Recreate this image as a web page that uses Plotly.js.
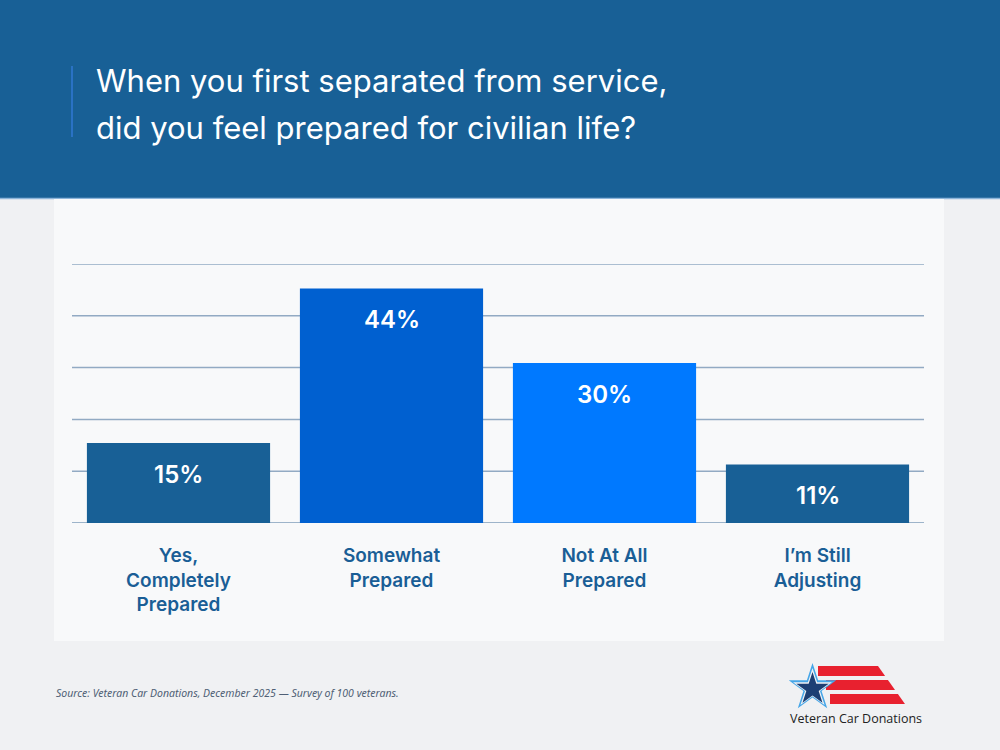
<!DOCTYPE html>
<html>
<head>
<meta charset="utf-8">
<script src="https://cdn.plot.ly/plotly-3.0.1.min.js"></script>
<style>
  html, body { margin: 0; padding: 0; background: #f0f1f3; }
  #chart { width: 1000px; height: 750px; }
</style>
</head>
<body>
<div id="chart"></div>
<script>
// chart data
const categories = [
  "Yes,<br>Completely<br>Prepared",
  "Somewhat<br>Prepared",
  "Not At All<br>Prepared",
  "I’m Still<br>Adjusting"
];
const shares = [15, 44, 30, 11];
const barColors = ["#186096", "#0060d0", "#0079ff", "#186096"];

const titleLines = [
  "When you first separated from service,",
  "did you feel prepared for civilian life?"
];
const sourceNote = "Source: Veteran Car Donations, December 2025 — Survey of 100 veterans.";
const brandName = "Veteran Car Donations";

// page pixels -> paper coords (margins are 0 so paper == page)
const px = x => x / 1000;
const py = y => 1 - y / 750;

function starPath(cx, cy, r) {
  const inner = r * 0.382;
  let d = "";
  for (let i = 0; i < 10; i++) {
    const rad = i % 2 === 0 ? r : inner;
    const a = -Math.PI / 2 + i * Math.PI / 5;
    const x = cx + rad * Math.cos(a);
    const y = cy + rad * Math.sin(a);
    d += (i === 0 ? "M" : "L") + px(x).toFixed(5) + "," + py(y).toFixed(5);
  }
  return d + "Z";
}

function stripePath(top, bottom, left) {
  // right edge follows one slanted line
  const edge = y => 878 + (y - 666) * (27 / 38);
  return "M" + px(left) + "," + py(top) +
    "L" + px(edge(top)) + "," + py(top) +
    "L" + px(edge(bottom)) + "," + py(bottom) +
    "L" + px(left) + "," + py(bottom) + "Z";
}

const gridStep = 9.72;

const trace = {
  type: "bar",
  x: categories,
  y: shares,
  width: 0.86,
  marker: { color: barColors },
  hoverinfo: "skip"
};

const valueNotes = categories.map((c, i) => ({
  x: c, y: shares[i], xref: "x", yref: "y",
  text: shares[i] + "%",
  showarrow: false, yshift: -31,
  font: { family: "Inter, Roboto, sans-serif", size: 24, weight: 600, color: "#ffffff" }
}));

const layout = {
  width: 1000,
  height: 750,
  margin: { l: 0, r: 0, t: 0, b: 0 },
  paper_bgcolor: "#f0f1f3",
  plot_bgcolor: "rgba(0,0,0,0)",
  showlegend: false,
  xaxis: {
    domain: [px(72), px(924)],
    type: "category",
    showgrid: false,
    showline: false,
    zeroline: false,
    ticks: "outside",
    ticklen: 15,
    tickcolor: "rgba(0,0,0,0)",
    tickfont: { family: "Inter, sans-serif", size: 19, weight: 600, color: "#1a5e96" },
    fixedrange: true
  },
  yaxis: {
    domain: [py(523), py(264)],
    range: [0, gridStep * 5],
    tick0: 0,
    dtick: gridStep,
    showticklabels: false,
    showgrid: false,
    zeroline: false,
    fixedrange: true
  },
  shapes: [
    // header band
    { type: "rect", xref: "paper", yref: "paper", layer: "below",
      x0: 0, x1: 1, y0: py(198), y1: 1, fillcolor: "#186096", line: { width: 0 } },
    { type: "line", xref: "paper", yref: "paper", layer: "below",
      x0: 0, x1: 1, y0: py(198.5), y1: py(198.5), line: { color: "#8db5da", width: 1.5 } },
    // accent bar by the title
    { type: "line", xref: "paper", yref: "paper",
      x0: px(72), x1: px(72), y0: py(66), y1: py(137), line: { color: "#2a72c4", width: 2 } },
    // chart panel
    { type: "rect", xref: "paper", yref: "paper", layer: "below",
      x0: px(54), x1: px(944), y0: py(641), y1: py(199), fillcolor: "#f8f9fa", line: { width: 0 } },
    // logo stripes
    { type: "path", xref: "paper", yref: "paper", path: stripePath(666, 676, 818),
      fillcolor: "#e8212f", line: { width: 0 } },
    { type: "path", xref: "paper", yref: "paper", path: stripePath(680, 690, 826),
      fillcolor: "#e8212f", line: { width: 0 } },
    { type: "path", xref: "paper", yref: "paper", path: stripePath(694, 704, 830),
      fillcolor: "#e8212f", line: { width: 0 } },
    // logo star
    { type: "path", xref: "paper", yref: "paper", path: starPath(812.5, 688, 25),
      fillcolor: "#45a6e8", line: { width: 0 } },
    { type: "path", xref: "paper", yref: "paper", path: starPath(812.5, 688.5, 20.5),
      fillcolor: "#f0f1f3", line: { width: 0 } },
    { type: "path", xref: "paper", yref: "paper", path: starPath(812.5, 689, 17),
      fillcolor: "#1c3f74", line: { width: 0 } }
  ].concat([1, 2, 3, 4, 5].map(k => ({
    // horizontal guide lines, drawn under the bars
    type: "line", xref: "x domain", yref: "y", layer: "below",
    x0: 0, x1: 1, y0: k * gridStep, y1: k * gridStep,
    line: { color: "#92aac3", width: 1.5 }
  }))).concat([{
    type: "line", xref: "x domain", yref: "y", layer: "below",
    x0: 0, x1: 1, y0: 0, y1: 0, line: { color: "#7f9cba", width: 1.5 }
  }]),
  annotations: valueNotes.concat([
    { xref: "paper", yref: "paper", x: px(94), y: py(80), xanchor: "left", yanchor: "middle",
      text: titleLines[0], showarrow: false,
      font: { family: "Inter, sans-serif", size: 31, color: "#ffffff" } },
    { xref: "paper", yref: "paper", x: px(94), y: py(128), xanchor: "left", yanchor: "middle",
      text: titleLines[1], showarrow: false,
      font: { family: "Inter, sans-serif", size: 31, color: "#ffffff" } },
    { xref: "paper", yref: "paper", x: px(54), y: py(693), xanchor: "left", yanchor: "middle",
      text: "<i>" + sourceNote + "</i>", showarrow: false,
      font: { family: "'Noto Sans', sans-serif", size: 10.5, color: "#4f5f75" } },
    { xref: "paper", yref: "paper", x: px(856), y: py(718), xanchor: "center", yanchor: "middle",
      text: brandName, showarrow: false,
      font: { family: "'Open Sans', 'Noto Sans', sans-serif", size: 12.5, color: "#222222" } }
  ])
};

Plotly.newPlot("chart", [trace], layout, { displayModeBar: false, staticPlot: true });
</script>
</body>
</html>
